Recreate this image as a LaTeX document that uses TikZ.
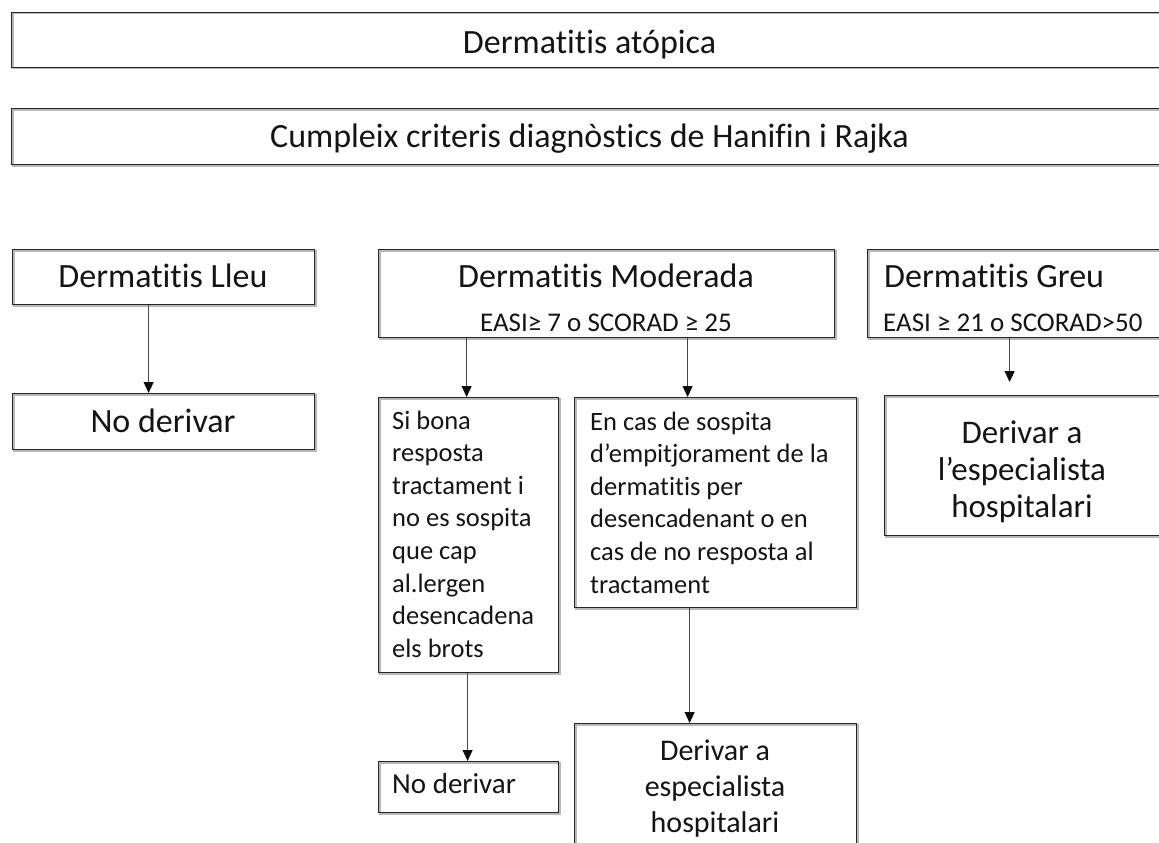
\documentclass[tikz,border=0pt]{standalone}
\usepackage{fontspec}
\setmainfont{Carlito}[Ligatures={NoCommon}]
\usetikzlibrary{arrows.meta}
% font sizes used in the chart
\newcommand\fzBig{\fontsize{34}{40}\selectfont}
\newcommand\fzMid{\fontsize{27}{32}\selectfont}
\newcommand\fzTxt{\fontsize{26.5}{32.6}\selectfont}
\begin{document}
\begin{tikzpicture}[x=1pt,y=-1pt,
  box/.style={draw=black!85, line width=1.2pt, inner sep=0pt, anchor=north west,
    preaction={draw=black!28, line width=1.2pt, transform canvas={xshift=1.3pt,yshift=-1.3pt}}},
  lbl/.style={inner sep=0pt, text=black!92},
  flow/.style={draw=black!72, line width=0.9pt,
    -{Triangle[length=11pt,width=10pt,color=black!95]}}]
\useasboundingbox (0,0) rectangle (1159,843);
\clip (0,0) rectangle (1159,843);

% header bands
\node[box, minimum width=1157pt, minimum height=55pt] (top) at (11,12) {};
\node[lbl, anchor=base, font=\fzBig] (topT) at (589.5,53) {Dermatitis atópica};
\node[box, minimum width=1157pt, minimum height=56pt] (crit) at (11,108) {};
\node[lbl, anchor=base, font=\fzBig] (critT) at (589.5,147) {Cumpleix criteris diagnòstics de Hanifin i Rajka};

% severity levels
\node[box, minimum width=302pt, minimum height=55pt] (lleu) at (12,249) {};
\node[lbl, anchor=base, font=\fzBig] (lleuT) at (163,287) {Dermatitis Lleu};

\node[box, minimum width=456pt, minimum height=88pt] (mod) at (378,249) {};
\node[lbl, anchor=base, font=\fzBig] (modT) at (606,287) {Dermatitis Moderada};
\node[lbl, anchor=base, font=\fzMid] (modS) at (606,331) {EASI≥ 7 o SCORAD ≥ 25};

\node[box, minimum width=300pt, minimum height=88pt] (greu) at (867,249) {};
\node[lbl, anchor=base west, font=\fzBig] (greuT) at (884,287) {Dermatitis Greu};
\node[lbl, anchor=base west, font=\fzMid] (greuS) at (883,331) {EASI ≥ 21 o SCORAD>50};

% outcomes
\node[box, minimum width=302pt, minimum height=56pt] (nd1) at (12,393) {};
\node[lbl, anchor=base, font=\fzBig] (nd1T) at (163,432) {No derivar};

\node[box, minimum width=180pt, minimum height=275pt] (sib) at (378,397) {};
\node[lbl, anchor=base west, font=\fzTxt, text width=160pt, align=flush left] (sibT) at (392,429)
  {Si bona\\resposta\\tractament i\\no es sospita\\que cap\\al.lergen\\desencadena\\els brots};

\node[box, minimum width=282pt, minimum height=210pt] (enc) at (574,397) {};
\node[lbl, anchor=base west, font=\fzTxt, text width=262pt, align=flush left] (encT) at (590,430)
  {En cas de sospita\\d’empitjorament de la\\dermatitis per\\desencadenant o en\\cas de no resposta al\\tractament};

\node[box, minimum width=276pt, minimum height=140pt] (gsub) at (884,395) {};
\node[lbl, anchor=base, font=\fontsize{33}{37}\selectfont, text width=260pt, align=flush center] (gsubT) at (1022,443)
  {Derivar a\\l’especialista\\hospitalari};

\node[box, minimum width=180pt, minimum height=51pt] (nd2) at (378,761) {};
\node[lbl, anchor=base west, font=\fontsize{29}{34}\selectfont] (nd2T) at (392,793) {No derivar};

\node[box, minimum width=282pt, minimum height=140pt] (der) at (574,723) {};
\node[lbl, anchor=base, font=\fontsize{30}{36}\selectfont, text width=260pt, align=flush center] (derT) at (715,760)
  {Derivar a\\especialista\\hospitalari};

% connectors
\draw[flow] ([xshift=-15pt]lleu.south) coordinate (a1) -- (a1 |- nd1.north);
\draw[flow] ([xshift=-140pt]mod.south) coordinate (a2) -- (a2 |- sib.north);
\draw[flow] ([xshift=81pt]mod.south) coordinate (a3) -- (a3 |- enc.north);
\draw[flow, shorten >=13pt] ([xshift=-8pt]greu.south) coordinate (a4) -- (a4 |- gsub.north);
\draw[flow] ([xshift=-1pt]sib.south) coordinate (a5) -- (a5 |- nd2.north);
\draw[flow] ([xshift=-26pt]enc.south) coordinate (a6) -- (a6 |- der.north);
\end{tikzpicture}
\end{document}
